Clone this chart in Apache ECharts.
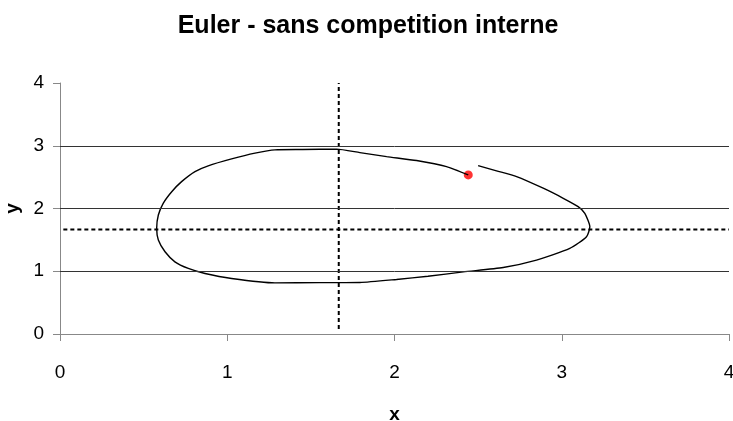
<!DOCTYPE html>
<html>
<head>
<meta charset="utf-8">
<script src="https://cdn.jsdelivr.net/npm/echarts@6/dist/echarts.min.js"></script>
<style>
  html, body { margin: 0; padding: 0; background: #fff; }
  #chart { width: 733px; height: 421px; }
</style>
</head>
<body>
<div id="chart"></div>
<script>
// trajectoire (x, y), du point rouge jusqu'a la fin
const orbitX = [2.441, 2.311, 2.132, 1.953, 1.793, 1.654, 1.45, 1.285, 1.166, 1.026, 0.886, 0.807, 0.727, 0.668, 0.617, 0.588, 0.578, 0.588, 0.628, 0.687, 0.767, 0.867, 1.026, 1.285, 1.55, 1.793, 2.012, 2.2, 2.411, 2.650, 2.849, 3.048, 3.148, 3.168, 3.138, 3.098, 3.009, 2.889, 2.730, 2.610, 2.500]
const orbitY = [2.535, 2.668, 2.764, 2.827, 2.891, 2.946, 2.94, 2.935, 2.882, 2.79, 2.68, 2.588, 2.428, 2.268, 2.083, 1.896, 1.684, 1.497, 1.310, 1.150, 1.045, 0.965, 0.885, 0.815, 0.818, 0.821, 0.869, 0.92, 0.990, 1.06, 1.177, 1.364, 1.550, 1.709, 1.923, 2.029, 2.163, 2.323, 2.508, 2.60, 2.684]
const startPoint = [2.441, 2.535]
const equilibrium = 5 / 3
const vLineY = [0.08, 4]
const hLineX = [0.02, 4]
const gridValues = [1, 2, 3]

let myChart = echarts.init(document.getElementById('chart'))
let orbitData = []
for (let i = 0; i < orbitX.length; i++) {
    orbitData.push([orbitX[i], orbitY[i]])
}
let dashStyle = { color: '#000', width: 2, type: [4, 3] }
let option = {
    animation: false,
    title: {
        text: 'Euler - sans competition interne',
        left: 363,
        textAlign: 'center',
        top: 9,
        textStyle: { fontFamily: 'Liberation Sans', fontSize: 25, fontWeight: 'bold', color: '#000' }
    },
    grid: { left: 60, right: 4, top: 83, bottom: 87, containLabel: false, outerBoundsMode: 'none' },
    xAxis: {
        type: 'value', min: 0, max: 4, interval: 1,
        name: 'x', nameLocation: 'middle', nameGap: 71,
        nameTextStyle: { fontFamily: 'Liberation Sans', fontSize: 19, fontWeight: 'bold', color: '#000' },
        axisLine: { lineStyle: { color: '#888' } },
        axisTick: { length: 7, lineStyle: { color: '#888' } },
        axisLabel: { margin: 29, fontFamily: 'Liberation Sans', fontSize: 19, color: '#000' },
        splitLine: { show: false }
    },
    yAxis: {
        type: 'value', min: 0, max: 4, interval: 1,
        name: 'y', nameLocation: 'middle', nameGap: 34, nameRotate: 90,
        nameTextStyle: { fontFamily: 'Liberation Sans', fontSize: 19, fontWeight: 'bold', color: '#000' },
        axisLine: { show: true, lineStyle: { color: '#888' } },
        axisTick: { show: true, length: 7, lineStyle: { color: '#888' } },
        axisLabel: { margin: 16, padding: [10, 0, 0, 0], fontFamily: 'Liberation Sans', fontSize: 19, color: '#000' },
        splitLine: { show: false }
    },
    series: [
        {
            type: 'line', data: [], silent: true,
            markLine: {
                symbol: 'none', silent: true, label: { show: false },
                lineStyle: { color: '#333', width: 1, type: 'solid' },
                data: gridValues.map(v => [{ coord: [0, v] }, { coord: [4, v] }])
            }
        },
        {
            type: 'line', showSymbol: false, silent: true,
            data: [[equilibrium, vLineY[0]], [equilibrium, vLineY[1]]],
            lineStyle: dashStyle
        },
        {
            type: 'line', showSymbol: false, silent: true,
            data: [[hLineX[0], equilibrium], [hLineX[1], equilibrium]],
            lineStyle: dashStyle
        },
        {
            type: 'line', showSymbol: false, smooth: 0.2, silent: true,
            data: orbitData,
            lineStyle: { color: '#000', width: 1.4 }
        },
        {
            type: 'scatter', symbolSize: 9, silent: true,
            data: [startPoint],
            itemStyle: { color: '#ff0000' }
        }
    ]
}
myChart.setOption(option)
window.addEventListener('resize', function() {
    myChart.resize()
})
</script>
</body>
</html>
